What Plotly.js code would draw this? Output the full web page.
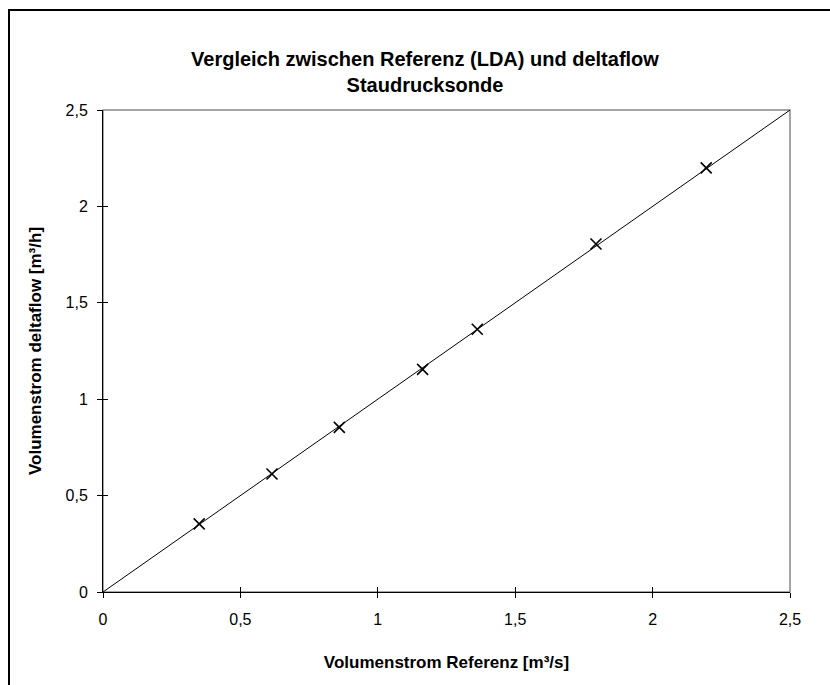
<!DOCTYPE html>
<html>
<head>
<meta charset="utf-8">
<script src="https://cdn.plot.ly/plotly-3.0.1.min.js"></script>
<style>
  body { margin: 0; background: #fff; }
  #wrap { position: relative; width: 830px; height: 685px; overflow: hidden; }
  #frame { position: absolute; left: 8px; top: 9px; width: 900px; height: 800px;
           border-left: 2px solid #000; border-top: 2px solid #000; pointer-events: none; }
  #chart { position: absolute; left: 0; top: 0; width: 830px; height: 685px; }
</style>
</head>
<body>
<div id="wrap">
  <div id="chart"></div>
  <div id="frame"></div>
</div>
<script>
// Messwerte: Referenz (LDA) gegen deltaflow
const ref_values = [0.35, 0.615, 0.86, 1.163, 1.362, 1.794, 2.195];
const deltaflow_values = [0.353, 0.612, 0.854, 1.155, 1.363, 1.805, 2.2];

// Winkelhalbierende als Vergleichslinie
const line_x = [0, 2.5];
const line_y = [0, 2.5];

const tick_vals = [0, 0.5, 1, 1.5, 2, 2.5];

const font_family = 'Liberation Sans, Arial, sans-serif';

const trace_line = {
    x: line_x, y: line_y,
    type: 'scatter', mode: 'lines',
    line: {color: '#000', width: 1},
    hoverinfo: 'skip', showlegend: false
};
const trace_points = {
    x: ref_values, y: deltaflow_values,
    type: 'scatter', mode: 'markers',
    marker: {symbol: 'x-thin-open', size: 11, color: '#000', line: {color: '#000', width: 1.6}},
    showlegend: false
};
// unsichtbare Spur, damit die Innen-Ticks der Zusatzachsen gezeichnet werden
const trace_dummy = {
    x: line_x, y: line_y, xaxis: 'x2', yaxis: 'y2',
    type: 'scatter', mode: 'lines', line: {width: 0},
    hoverinfo: 'skip', showlegend: false
};

const layout = {
    width: 830, height: 685,
    paper_bgcolor: '#fff', plot_bgcolor: '#fff',
    separators: ',.',
    font: {family: font_family, size: 16, color: '#000'},
    margin: {l: 103, r: 40, t: 110, b: 93},
    title: {
        text: '<b>Vergleich zwischen Referenz (LDA) und deltaflow<br>Staudrucksonde</b>',
        font: {size: 20, family: font_family, color: '#000'},
        xref: 'container', x: 0.512, xanchor: 'center',
        yref: 'container', y: 0.904, yanchor: 'middle'
    },
    xaxis: {
        range: [0, 2.5], tickvals: tick_vals,
        showgrid: false, zeroline: false,
        showline: true, linecolor: '#000', linewidth: 1,
        ticks: 'outside', ticklen: 5, tickcolor: '#000', tickwidth: 1,
        tickfont: {size: 16}, ticklabelstandoff: 8,
        title: {text: '<b>Volumenstrom Referenz [m³/s]</b>', font: {size: 17}, standoff: 28}
    },
    yaxis: {
        range: [0, 2.5], tickvals: tick_vals,
        showgrid: false, zeroline: false,
        showline: true, linecolor: '#000', linewidth: 1,
        ticks: 'outside', ticklen: 5, tickcolor: '#000', tickwidth: 1,
        tickfont: {size: 16}, ticklabelstandoff: 6,
        title: {text: '<b>Volumenstrom deltaflow [m³/h]</b>', font: {size: 17}, standoff: 19}
    },
    xaxis2: {
        overlaying: 'x', side: 'bottom', range: [0, 2.5], tickvals: tick_vals,
        showticklabels: false, showgrid: false, zeroline: false, showline: false,
        ticks: 'inside', ticklen: 5, tickcolor: '#000', tickwidth: 1
    },
    yaxis2: {
        overlaying: 'y', side: 'left', range: [0, 2.5], tickvals: tick_vals,
        showticklabels: false, showgrid: false, zeroline: false, showline: false,
        ticks: 'inside', ticklen: 5, tickcolor: '#000', tickwidth: 1
    },
    shapes: [{
        type: 'rect', xref: 'paper', yref: 'paper',
        x0: 0, x1: 1, y0: 0, y1: 1,
        line: {color: '#888', width: 1.5}, layer: 'below'
    }]
};

Plotly.newPlot('chart', [trace_dummy, trace_line, trace_points], layout, {staticPlot: true, displayModeBar: false});
</script>
</body>
</html>
